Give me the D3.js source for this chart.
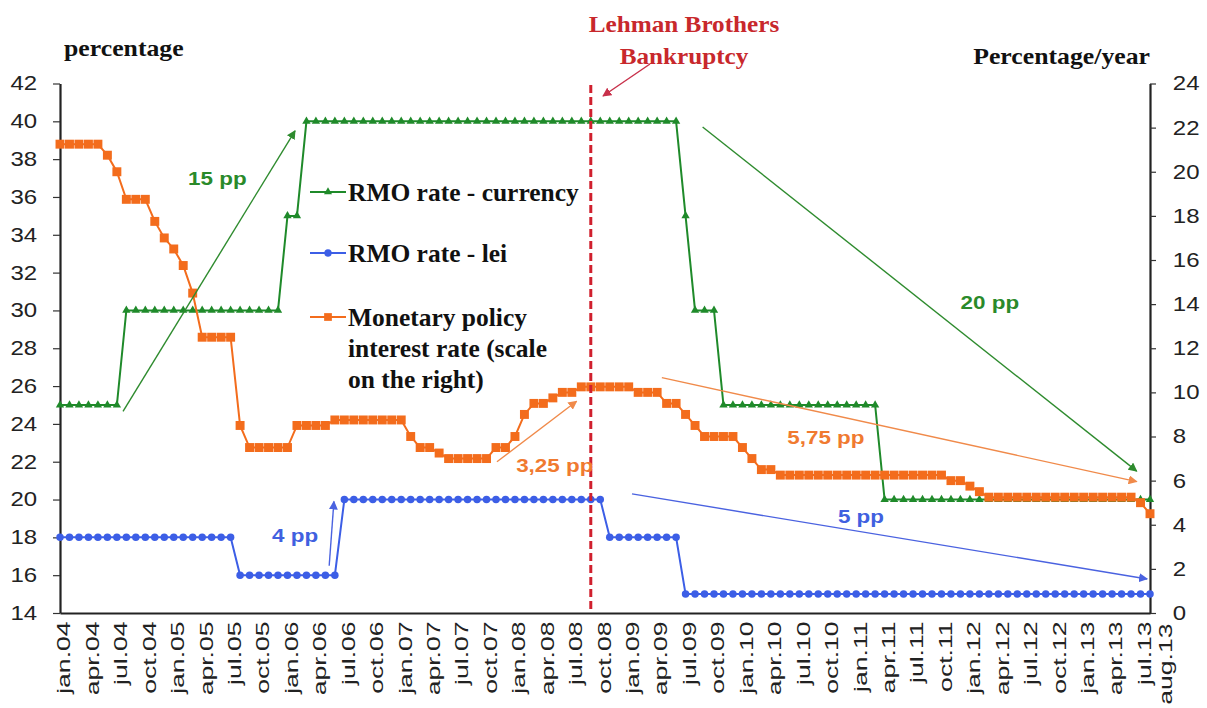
<!DOCTYPE html>
<html>
<head>
<meta charset="utf-8">
<script src="https://cdn.jsdelivr.net/npm/d3@7"></script>
<style>
  body { margin: 0; background: #fff; }
</style>
</head>
<body>
<svg id="chart" width="1207" height="708"></svg>
<script>
// categories: one per month, jan.04 .. aug.13
const monthNames = ["jan","feb","mar","apr","may","jun","jul","aug","sep","oct","nov","dec"];
const months = [];
for (let yr = 4; yr <= 13; yr++) {
    for (let m = 0; m < 12; m++) {
        if (yr == 13 && m > 7) break;
        months.push(monthNames[m] + "." + String(yr).padStart(2, "0"));
    }
}

// RMO rate - currency (left scale)
const rmoCurrency = [
    25,25,25,25,25,25,25,30,30,30,
    30,30,30,30,30,30,30,30,30,30,
    30,30,30,30,35,35,40,40,40,40,
    40,40,40,40,40,40,40,40,40,40,
    40,40,40,40,40,40,40,40,40,40,
    40,40,40,40,40,40,40,40,40,40,
    40,40,40,40,40,40,35,30,30,30,
    25,25,25,25,25,25,25,25,25,25,
    25,25,25,25,25,25,25,20,20,20,
    20,20,20,20,20,20,20,20,20,20,
    20,20,20,20,20,20,20,20,20,20,
    20,20,20,20,20,20
];

// RMO rate - lei (left scale)
const rmoLei = [
    18,18,18,18,18,18,18,18,18,18,
    18,18,18,18,18,18,18,18,18,16,
    16,16,16,16,16,16,16,16,16,16,
    20,20,20,20,20,20,20,20,20,20,
    20,20,20,20,20,20,20,20,20,20,
    20,20,20,20,20,20,20,20,18,18,
    18,18,18,18,18,18,15,15,15,15,
    15,15,15,15,15,15,15,15,15,15,
    15,15,15,15,15,15,15,15,15,15,
    15,15,15,15,15,15,15,15,15,15,
    15,15,15,15,15,15,15,15,15,15,
    15,15,15,15,15,15
];

// Monetary policy interest rate (right scale)
const policyRate = [
    21.25,21.25,21.25,21.25,21.25,20.75,20,18.75,18.75,18.75,
    17.75,17,16.5,15.75,14.5,12.5,12.5,12.5,12.5,8.5,
    7.5,7.5,7.5,7.5,7.5,8.5,8.5,8.5,8.5,8.75,
    8.75,8.75,8.75,8.75,8.75,8.75,8.75,8,7.5,7.5,
    7.25,7,7,7,7,7,7.5,7.5,8,9,
    9.5,9.5,9.75,10,10,10.25,10.25,10.25,10.25,10.25,
    10.25,10,10,10,9.5,9.5,9,8.5,8,8,
    8,8,7.5,7,6.5,6.5,6.25,6.25,6.25,6.25,
    6.25,6.25,6.25,6.25,6.25,6.25,6.25,6.25,6.25,6.25,
    6.25,6.25,6.25,6.25,6,6,5.75,5.5,5.25,5.25,
    5.25,5.25,5.25,5.25,5.25,5.25,5.25,5.25,5.25,5.25,
    5.25,5.25,5.25,5.25,5,4.5
];

const leftTicks = [14,16,18,20,22,24,26,28,30,32,34,36,38,40,42];
const rightTicks = [0,2,4,6,8,10,12,14,16,18,20,22,24];
const labelMonths = months.filter((d, i) => i % 3 == 0).concat(["aug.13"]);

// arrows: [from month, from value, to month, to value] on the left scale
const arrows = [
    { color: "#2e8b2e", pts: [6.65, 24.66, 24.8, 39.5] },
    { color: "#4a62e0", pts: [28.4, 16.5, 28.9, 19.9] },
    { color: "#f08a4a", pts: [46.1, 22.0, 54.5, 25.2] },
    { color: "#2e8b2e", pts: [67.8, 39.7, 113.6, 21.5] },
    { color: "#f08a4a", pts: [63.5, 26.45, 113.6, 20.95] },
    { color: "#4a62e0", pts: [60.35, 20.3, 114.7, 15.8] }
];
const ppLabels = [
    { text: "15 pp", color: "#2a8a2a", m: 16.6, v: 37.0 },
    { text: "20 pp", color: "#2a8a2a", m: 98.1, v: 30.45 },
    { text: "4 pp", color: "#4060e0", m: 24.8, v: 18.1 },
    { text: "5 pp", color: "#4060e0", m: 84.5, v: 19.15 },
    { text: "3,25 pp", color: "#f07a30", m: 52.2, v: 21.8 },
    { text: "5,75 pp", color: "#f07a30", m: 80.8, v: 23.3 }
];
const lehmanMonth = "sep.08";

const svg = d3.select("#chart");
const sans = "'Liberation Sans', Arial, sans-serif";
const serif = "'Liberation Serif', 'Times New Roman', serif";

const x = d3.scalePoint().domain(months).range([60, 1150]);
const yL = d3.scaleLinear().domain([14, 42]).range([613, 83.5]);
const yR = d3.scaleLinear().domain([0, 24]).range([613, 83.5]);

// arrow heads
const defs = svg.append("defs");
["#2e8b2e", "#4a62e0", "#f08a4a", "#c8304a"].forEach((c, i) => {
    defs.append("marker")
        .attr("id", "head" + i)
        .attr("viewBox", "0 0 10 10")
        .attr("refX", 9).attr("refY", 5)
        .attr("markerWidth", 9).attr("markerHeight", 9)
        .attr("markerUnits", "userSpaceOnUse")
        .attr("orient", "auto")
        .append("path")
        .attr("d", "M0,0 L10,5 L0,10 z")
        .attr("fill", c);
});
const headId = { "#2e8b2e": "head0", "#4a62e0": "head1", "#f08a4a": "head2", "#c8304a": "head3" };

// axes
const gl = svg.append("g")
    .attr("transform", "translate(60,0)")
    .call(d3.axisLeft(yL).tickValues(leftTicks).tickSize(7).tickSizeOuter(0));
const gr = svg.append("g")
    .attr("transform", "translate(1150,0)")
    .call(d3.axisRight(yR).tickValues(rightTicks).tickSize(6).tickSizeOuter(0));
[gl, gr].forEach(g => {
    g.select(".domain").attr("stroke", "#222").attr("stroke-width", 2.2);
    g.selectAll(".tick line").attr("stroke", "#333").attr("stroke-width", 1.2);
    g.selectAll(".tick text")
        .attr("font-family", sans).attr("font-size", 20).attr("fill", "#222");
});
gl.selectAll(".tick text").attr("x", -19).attr("transform", "scale(1.2,1)");
gr.selectAll(".tick text").attr("x", 19).attr("transform", "scale(1.2,1)");

const gb = svg.append("g")
    .attr("transform", "translate(0,613)")
    .call(d3.axisBottom(x).tickValues(labelMonths).tickSize(0));
gb.select(".domain").attr("stroke", "#222").attr("stroke-width", 2.2);
gb.selectAll(".tick text")
    .attr("font-family", sans).attr("font-size", 19).attr("fill", "#222")
    .attr("text-anchor", "end")
    .attr("x", -6).attr("y", 3).attr("dy", "0.36em")
    .attr("transform", "rotate(-90) scale(1.4,1)");
// last label is pushed aside, as in the original
gb.selectAll(".tick").filter(d => d == "aug.13")
    .select("text").attr("x", -7.5).attr("y", 15);

// series
function drawSeries(values, yScale, color, symbol, size) {
    const pts = values.map((v, i) => [x(months[i]), yScale(v)]);
    svg.append("path")
        .attr("d", d3.line()(pts))
        .attr("fill", "none")
        .attr("stroke", color)
        .attr("stroke-width", 2);
    svg.append("g").selectAll("path")
        .data(pts)
        .join("path")
        .attr("transform", d => `translate(${d[0]},${d[1]})`)
        .attr("d", d3.symbol().type(symbol).size(size)())
        .attr("fill", color);
}
drawSeries(rmoCurrency, yL, "#1f8a2a", d3.symbolTriangle, 30);
drawSeries(rmoLei, yL, "#3c5ee6", d3.symbolCircle, 44);
drawSeries(policyRate, yR, "#f36c1c", d3.symbolSquare, 80);

// Lehman line
svg.append("line")
    .attr("x1", x(lehmanMonth)).attr("x2", x(lehmanMonth))
    .attr("y1", 85).attr("y2", 613)
    .attr("stroke", "#d0202e")
    .attr("stroke-width", 3)
    .attr("stroke-dasharray", "8,4");

// arrows
arrows.forEach(a => {
    svg.append("line")
        .attr("x1", x.step() * a.pts[0] + 60).attr("y1", yL(a.pts[1]))
        .attr("x2", x.step() * a.pts[2] + 60).attr("y2", yL(a.pts[3]))
        .attr("stroke", a.color)
        .attr("stroke-width", 1.4)
        .attr("marker-end", `url(#${headId[a.color]})`);
});

function addText(px, py, str, o) {
    return svg.append("text")
        .attr("transform", `translate(${px},${py}) scale(${o.sx || 1},1)`)
        .attr("text-anchor", o.anchor || "start")
        .attr("font-family", o.family)
        .attr("font-size", o.size)
        .attr("font-weight", "bold")
        .attr("fill", o.color || "#111")
        .text(str);
}

ppLabels.forEach(p => {
    addText(x.step() * p.m + 60, yL(p.v) + 7, p.text,
        { family: sans, size: 19, sx: 1.18, anchor: "middle", color: p.color });
});

// axis titles
addText(64, 56, "percentage", { family: serif, size: 23, sx: 1.12 });
addText(1150, 64, "Percentage/year", { family: serif, size: 23, sx: 1.12, anchor: "end" });

// Lehman caption and its arrow
addText(684, 32, "Lehman Brothers", { family: serif, size: 24, sx: 1.05, anchor: "middle", color: "#c8282c" });
addText(684, 64, "Bankruptcy", { family: serif, size: 24, sx: 1.05, anchor: "middle", color: "#c8282c" });
svg.append("line")
    .attr("x1", 650).attr("y1", 64)
    .attr("x2", 603).attr("y2", 96)
    .attr("stroke", "#c8304a").attr("stroke-width", 1.4)
    .attr("marker-end", "url(#head3)");

// legend
const legendItems = [
    { lines: ["RMO rate - currency"], color: "#1f8a2a", symbol: d3.symbolTriangle, size: 28, y: 192 },
    { lines: ["RMO rate - lei"], color: "#3c5ee6", symbol: d3.symbolCircle, size: 42, y: 253 },
    { lines: ["Monetary policy", "interest rate (scale", "on the right)"], color: "#f36c1c", symbol: d3.symbolSquare, size: 60, y: 317 }
];
legendItems.forEach(it => {
    svg.append("line")
        .attr("x1", 310).attr("x2", 346)
        .attr("y1", it.y).attr("y2", it.y)
        .attr("stroke", it.color).attr("stroke-width", 2);
    svg.append("path")
        .attr("transform", `translate(328,${it.y})`)
        .attr("d", d3.symbol().type(it.symbol).size(it.size)())
        .attr("fill", it.color);
    it.lines.forEach((t, k) => {
        addText(348, it.y + 9 + k * 31, t, { family: serif, size: 24.5, sx: 1.04 });
    });
});
</script>
</body>
</html>
